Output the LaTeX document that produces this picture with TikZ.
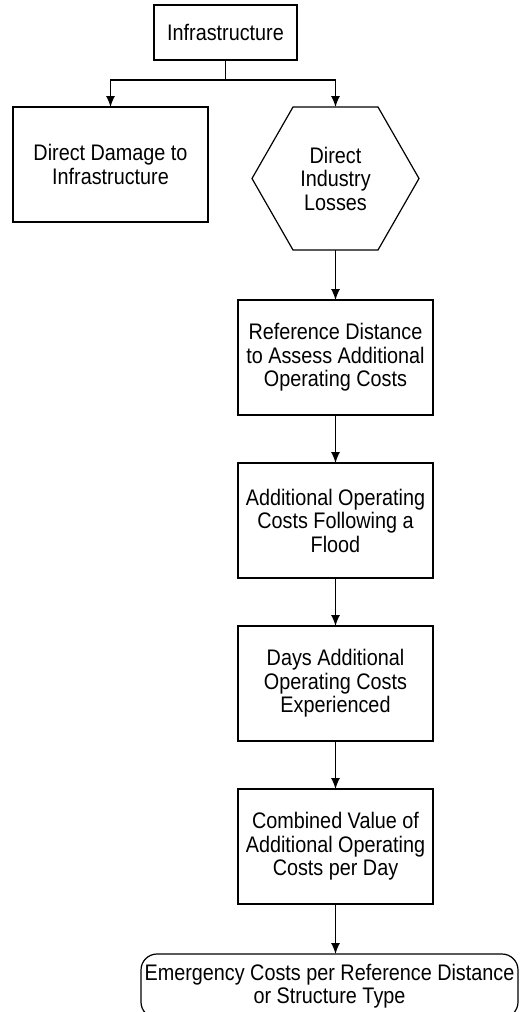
\documentclass[tikz,border=0pt]{standalone}
\usepackage{fontspec}
\setmainfont{Liberation Sans}[FakeStretch=0.88]
\usetikzlibrary{positioning, arrows.meta}

\tikzset{
  box/.style={draw, line width=1.2pt, align=center, minimum width=195pt, minimum height=115pt, inner sep=0pt, outer sep=0pt},
  arr/.style={-{Latex[length=11pt, width=9pt]}, line width=1.2pt}
}

\begin{document}
\begin{tikzpicture}[x=1pt, y=1pt, node distance=48pt, font=\fontsize{22.5}{23.5}\selectfont]
    \useasboundingbox (0,0) rectangle (520,-1012);
    \fill[white] (0,0) rectangle (520,-1012);

    \node[draw, line width=1.2pt, minimum width=143pt, minimum height=55pt, inner sep=0pt, outer sep=0pt] (infra) at (225.5,-32.5) {Infrastructure};
    \node[box] (dmg) at (110.5,-164.5) {Direct Damage to\\Infrastructure};
    \node[align=center, minimum width=167pt, minimum height=143pt, inner sep=0pt, outer sep=0pt] (loss) at (335.5,-178.5) {Direct\\Industry\\Losses};
    \draw[line width=1.2pt] ([xshift=41pt]loss.north west) -- ([xshift=-41pt]loss.north east) -- (loss.east)
      -- ([xshift=-41pt]loss.south east) -- ([xshift=41pt]loss.south west) -- (loss.west) -- cycle;
    \node[box, below = 50pt of loss] (refdist) {Reference Distance\\to Assess Additional\\Operating Costs};
    \node[box, below = of refdist] (addcost) {Additional Operating\\Costs Following a\\Flood};
    \node[box, below = of addcost] (days) {Days Additional\\Operating Costs\\Experienced};
    \node[box, below = of days] (combval) {Combined Value of\\Additional Operating\\Costs per Day};
    \node[draw, line width=1.2pt, rounded corners=16pt, align=center, minimum width=377pt, minimum height=64pt, inner sep=0pt, outer sep=0pt, below = 50pt of combval, xshift=-6pt] (emerg) {Emergency Costs per Reference Distance\\or Structure Type};

    \draw[line width=1.2pt] (infra.south) -- ++(0,-20) coordinate (split);
    \draw[arr] (split) -| (dmg.north);
    \draw[arr] (split) -| (loss.north);
    \draw[arr] (loss) -- (refdist);
    \draw[arr] (refdist) -- (addcost);
    \draw[arr] (addcost) -- (days);
    \draw[arr] (days) -- (combval);
    \draw[arr] (combval) -- (combval |- emerg.north);
\end{tikzpicture}
\end{document}
